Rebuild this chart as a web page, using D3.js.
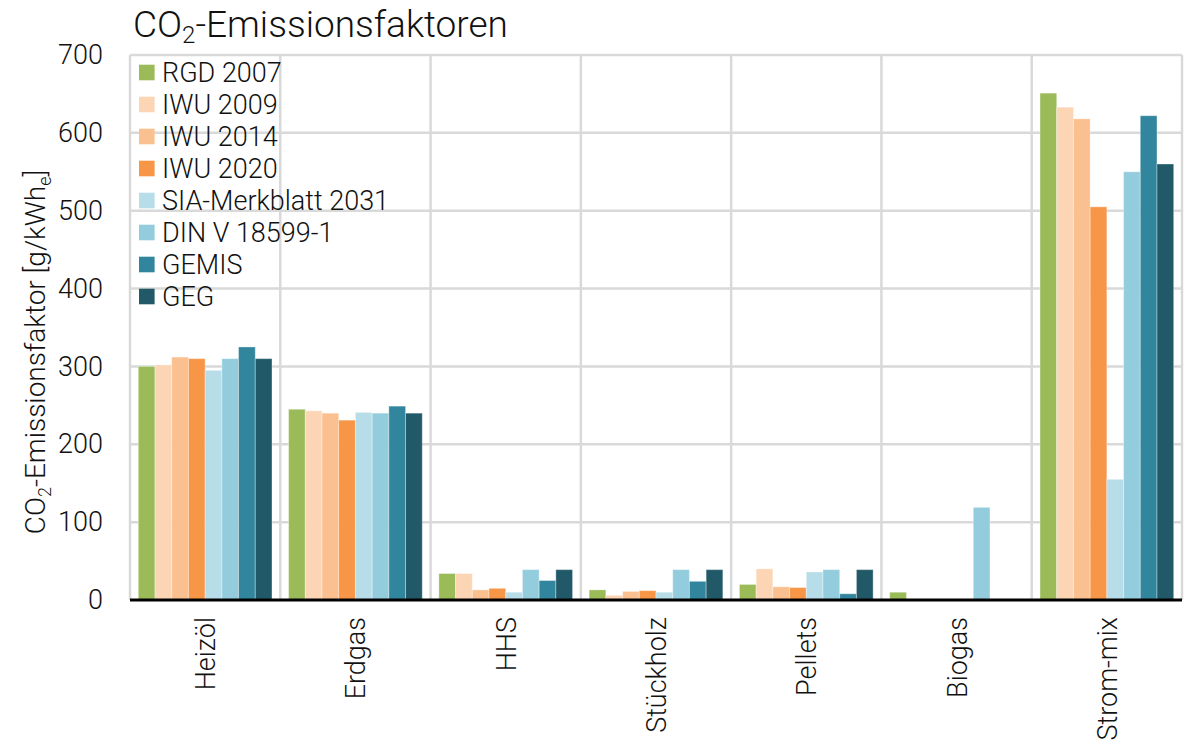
<!DOCTYPE html>
<html>
<head>
<meta charset="utf-8">
<script src="https://cdn.jsdelivr.net/npm/d3@7"></script>
<style>
  body { margin: 0; background: #fff; }
  text { font-family: Roboto, 'Liberation Sans', sans-serif; font-weight: 300; fill: #111; }
</style>
</head>
<body>
<div id="chart"></div>
<script>
// Data
const categories = ["Heizöl", "Erdgas", "HHS", "Stückholz", "Pellets", "Biogas", "Strom-mix"]
const seriesNames = ["RGD 2007", "IWU 2009", "IWU 2014", "IWU 2020", "SIA-Merkblatt 2031", "DIN V 18599-1", "GEMIS", "GEG"]
const rgd2007 = [300, 245, 34, 13, 20, 10, 651]
const iwu2009 = [302, 243, 34, 6, 40, null, 633]
const iwu2014 = [312, 240, 13, 11, 17, null, 618]
const iwu2020 = [310, 231, 15, 12, 16, null, 505]
const sia2031 = [295, 241, 10, 10, 36, null, 155]
const din18599 = [310, 240, 39, 39, 39, 119, 550]
const gemis = [325, 249, 25, 24, 8, null, 622]
const geg = [310, 240, 39, 39, 39, null, 560]
const yTicks = [0, 100, 200, 300, 400, 500, 600, 700]

const seriesValues = [rgd2007, iwu2009, iwu2014, iwu2020, sia2031, din18599, gemis, geg]
const colors = ["#9bbb59", "#fcd5b5", "#fac090", "#f79646", "#b7dde8", "#93cddd", "#31859c", "#215968"]

// Constants
const width = 1195
const height = 742
const margin = { top: 55, right: 13, bottom: 142, left: 130 }
const graphWidth = width - margin.left - margin.right
const graphHeight = height - margin.top - margin.bottom
const fontFamily = "Roboto, 'Liberation Sans', sans-serif"

const svg = d3.select("#chart")
    .append("svg")
    .attr("width", width)
    .attr("height", height)

const g = svg.append("g")
    .attr("transform", `translate(${margin.left}, ${margin.top})`)

// Scales
const x0 = d3.scaleBand()
    .domain(categories)
    .range([0, graphWidth])
    .paddingInner(0)
    .paddingOuter(0)

const x1 = d3.scaleBand()
    .domain(seriesNames)
    .range([8.3, x0.bandwidth() - 8.3])
    .padding(0)

const y = d3.scaleLinear()
    .domain([0, 700])
    .range([graphHeight, 0])

// Gridlines
g.append("g")
    .selectAll("line")
    .data(yTicks.filter(d => d > 0))
    .join("line")
    .attr("x1", 0)
    .attr("x2", graphWidth)
    .attr("y1", d => y(d))
    .attr("y2", d => y(d))
    .style("stroke", "#d9d9d9")
    .style("stroke-width", 2.5)

const vLines = categories.map(c => x0(c)).concat([graphWidth])
g.append("g")
    .selectAll("line")
    .data(vLines)
    .join("line")
    .attr("x1", d => d)
    .attr("x2", d => d)
    .attr("y1", 0)
    .attr("y2", graphHeight)
    .style("stroke", "#d9d9d9")
    .style("stroke-width", 2.5)

// Bars
const rows = []
categories.forEach((c, i) => {
    seriesNames.forEach((s, j) => {
        if (seriesValues[j][i] != null) rows.push({ cat: c, series: s, value: seriesValues[j][i], color: colors[j] })
    })
})

g.append("g")
    .selectAll("rect")
    .data(rows)
    .join("rect")
    .attr("x", d => x0(d.cat) + x1(d.series))
    .attr("y", d => y(d.value))
    .attr("width", x1.bandwidth())
    .attr("height", d => graphHeight - y(d.value))
    .attr("fill", d => d.color)
    .attr("stroke", "rgba(255,255,255,0.35)")
    .attr("stroke-width", 1)

// Axes
const yAxis = d3.axisLeft(y).tickValues(yTicks).tickSize(0).tickPadding(27)
const yAxisGroup = g.append("g").call(yAxis)
yAxisGroup.select(".domain").remove()
yAxisGroup.selectAll("text")
    .style("font-size", "27px")
    .style("font-family", fontFamily)
    .style("font-weight", 300)
    .attr("fill", "#111")

const xAxis = d3.axisBottom(x0).tickSize(0).tickPadding(0)
const xAxisGroup = g.append("g")
    .attr("transform", `translate(0, ${graphHeight})`)
    .call(xAxis)
xAxisGroup.select(".domain").remove()
xAxisGroup.selectAll("text")
    .style("font-size", "27px")
    .style("font-family", fontFamily)
    .style("font-weight", 300)
    .attr("fill", "#111")
    .attr("text-anchor", "end")
    .attr("transform", "translate(10, 17) rotate(-90)")
    .attr("dy", 0)
    .attr("y", 0)
    .attr("x", 0)

g.append("line")
    .attr("x1", 0)
    .attr("x2", graphWidth)
    .attr("y1", graphHeight)
    .attr("y2", graphHeight)
    .style("stroke", "#000")
    .style("stroke-width", 3)

// Title
const title = svg.append("text")
    .attr("x", 133)
    .attr("y", 37)
    .style("font-size", "37px")
title.append("tspan").text("CO")
title.append("tspan").text("2").style("font-size", "24px").attr("dy", 6)
title.append("tspan").text("-Emissionsfaktoren").attr("dy", -6)

// Y label
const yLabel = svg.append("text")
    .attr("transform", "translate(45, 352) rotate(-90)")
    .attr("text-anchor", "middle")
    .style("font-size", "28px")
yLabel.append("tspan").text("CO")
yLabel.append("tspan").text("2").style("font-size", "18px").attr("dy", 6)
yLabel.append("tspan").text("-Emissionsfaktor [g/kWh").attr("dy", -6)
yLabel.append("tspan").text("e").style("font-size", "18px").attr("dy", 6)
yLabel.append("tspan").text("]").attr("dy", -6)

// Legend
const legend = svg.append("g")
    .attr("transform", "translate(139, 72.5)")
const items = legend.selectAll("g")
    .data(seriesNames)
    .join("g")
    .attr("transform", (d, i) => `translate(0, ${i * 32})`)
items.append("rect")
    .attr("x", 0)
    .attr("y", -7.8)
    .attr("width", 15.6)
    .attr("height", 15.6)
    .attr("fill", (d, i) => colors[i])
items.append("text")
    .attr("x", 23)
    .attr("y", 9.5)
    .style("font-size", "27px")
    .text(d => d)
</script>
</body>
</html>
